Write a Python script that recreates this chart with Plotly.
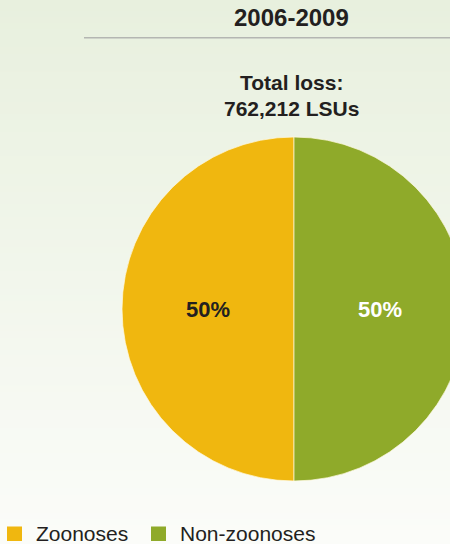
import plotly.graph_objects as go

# Livestock losses by disease group, 2006-2009 (LSUs)
period = "2006-2009"
groups = ["Zoonoses", "Non-zoonoses"]
losses = [381106, 381106]
group_colors = ["#F0B70F", "#8FAA2A"]
label_colors = ["#231F20", "#FFFFFF"]

W, H = 470, 544
FONT = "Liberation Sans"
INK = "#231F20"
total = sum(losses)


def px(x):
    return x / W


def py(y):
    return 1 - y / H


fig = go.Figure()

# first slice starts at 6 o'clock and runs clockwise, so Zoonoses fills the left half
fig.add_trace(go.Pie(
    labels=groups,
    values=losses,
    sort=False,
    direction="clockwise",
    rotation=180,
    marker=dict(colors=group_colors, line=dict(color="rgba(255,250,225,0.7)", width=1)),
    texttemplate="%{percent:.0%}",
    textposition="inside",
    insidetextfont=dict(family=FONT, size=22, color=label_colors, weight="bold"),
    hoverinfo="label+value+percent",
    domain=dict(x=[px(122), px(466)], y=[py(481), py(137)]),
    showlegend=False,
))

# soft vertical gradient background: pale green at top fading to off-white
shapes = []
n = 90
top = (232, 240, 222)
bot = (251, 252, 249)
for i in range(n):
    t = i / (n - 1)
    c = tuple(round(top[k] + (bot[k] - top[k]) * t) for k in range(3))
    shapes.append(dict(
        type="rect", xref="paper", yref="paper",
        x0=0, x1=1, y0=1 - (i + 1) / n, y1=1 - i / n + 0.002,
        fillcolor="rgb(%d,%d,%d)" % c, line=dict(width=0), layer="below",
    ))

# rule under the period heading
shapes.append(dict(
    type="line", xref="paper", yref="paper",
    x0=px(84), x1=1, y0=py(37.7), y1=py(37.7),
    line=dict(color="#B4B6B2", width=1.5),
))

annotations = [
    dict(text="<b>%s</b>" % period, x=px(291), y=py(17), xref="paper", yref="paper",
         showarrow=False, xanchor="center", yanchor="middle",
         font=dict(family=FONT, size=24, color=INK)),
    dict(text="<b>Total loss:</b>", x=px(291.5), y=py(82), xref="paper", yref="paper",
         showarrow=False, xanchor="center", yanchor="middle",
         font=dict(family=FONT, size=21, color=INK)),
    dict(text="<b>{:,} LSUs</b>".format(total), x=px(291.5), y=py(108.5), xref="paper", yref="paper",
         showarrow=False, xanchor="center", yanchor="middle",
         font=dict(family=FONT, size=21, color=INK)),
]

# legend row along the bottom: colour square followed by group name
legend_x = [7, 151]
for name, col, x0 in zip(groups, group_colors, legend_x):
    shapes.append(dict(
        type="rect", xref="paper", yref="paper",
        x0=px(x0), x1=px(x0 + 15), y0=py(541), y1=py(526.5),
        fillcolor=col, line=dict(width=0),
    ))
    annotations.append(dict(
        text=name, x=px(x0 + 26.5), y=py(533.5), xref="paper", yref="paper",
        showarrow=False, xanchor="left", yanchor="middle",
        font=dict(family=FONT, size=21, color=INK),
    ))

fig.update_layout(
    width=W, height=H,
    margin=dict(l=0, r=0, t=0, b=0, autoexpand=False),
    paper_bgcolor="rgb(251,252,249)",
    plot_bgcolor="rgba(0,0,0,0)",
    shapes=shapes,
    annotations=annotations,
    showlegend=False,
)

fig.write_html(
    "out.html",
    post_script="document.body.style.overflow='hidden';document.documentElement.style.overflow='hidden';",
)
